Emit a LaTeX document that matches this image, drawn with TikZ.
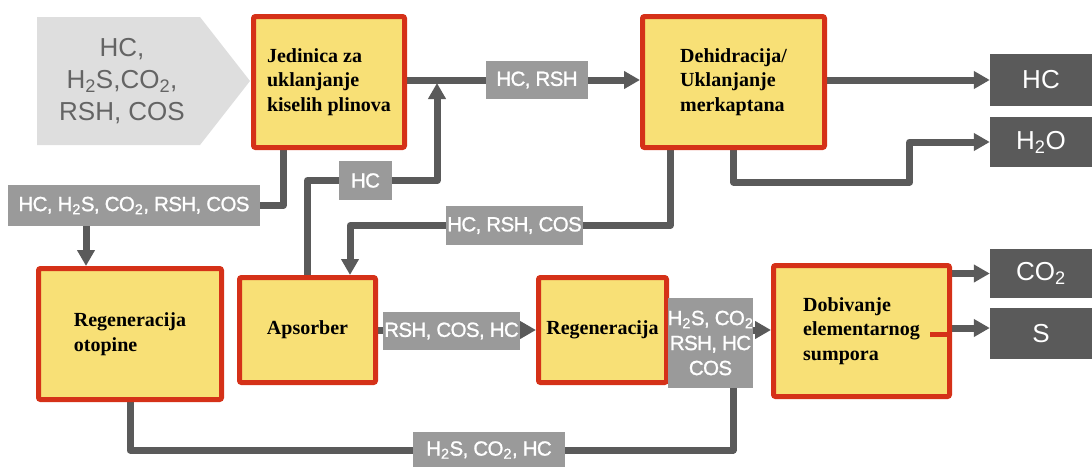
\documentclass[tikz,border=0pt]{standalone}
\usepackage{fontspec}
\setmainfont{Liberation Serif}
\setsansfont{Liberation Sans}
\newfontfamily\lblfont{Liberation Sans}[FakeBold=1.2, LetterSpace=-3]
\usetikzlibrary{arrows.meta}
\definecolor{boxred}{HTML}{D53118}
\definecolor{boxyel}{HTML}{F8E076}
\definecolor{lbl}{HTML}{9A9A9A}
\definecolor{dark}{HTML}{5A5A5A}
\definecolor{inbg}{HTML}{DEDEDE}
\definecolor{intx}{HTML}{646464}
\pgfdeclarelayer{bg}
\pgfsetlayers{bg,main}
\begin{document}
\begin{tikzpicture}[x=1pt,y=-1pt,
 proc/.style={draw=boxred, fill=boxyel, line width=5pt, rounded corners=2pt, inner sep=0pt, align=left, font=\bfseries\fontsize{20}{24.5}\selectfont, text=black},
 tag/.style={fill=lbl, inner sep=0pt, text=white, align=center, font=\lblfont\fontsize{20.5}{25}\selectfont},
 outbox/.style={fill=dark, inner sep=0pt, text=white, font=\sffamily\fontsize{26}{30}\selectfont, minimum width=102pt},
 flow/.style={draw=dark, line width=7pt, line join=round},
 arr/.style={flow, -{Triangle[length=16pt,width=17pt]}}
]
\useasboundingbox (0,0) rectangle (1092,466);
% input arrow shape
\fill[inbg] (37,17) -- (200,17) -- (250,81) -- (200,145) -- (37,145) -- cycle;
\node[font=\sffamily\fontsize{26}{32}\selectfont, text=intx, align=center] (in) at (122,81) {HC,\\H\textsubscript{2}S,CO\textsubscript{2},\\RSH, COS};
% process boxes
\node[proc, minimum width=151pt, minimum height=131pt] (b1) at (329,82) {Jedinica za\\uklanjanje\\kiselih plinova};
\node[proc, minimum width=182pt, minimum height=131pt] (b2) at (733.5,82) {Dehidracija/\\Uklanjanje\\merkaptana};
\node[proc, minimum width=183pt, minimum height=131pt] (ro) at (130,334) {Regeneracija\\otopine};
\node[proc, minimum width=136pt, minimum height=105pt] (ab) at (307.5,330) {Apsorber};
\node[proc, minimum width=128pt, minimum height=105pt] (rg) at (602.5,330) {Regeneracija};
\node[proc, minimum width=176pt, minimum height=131pt] (ds) at (861.5,331) {Dobivanje\\elementarnog\\sumpora};
\draw[boxred, line width=5pt] ([xshift=-22pt,yshift=-3.5pt]ds.east) -- ([xshift=-4pt,yshift=-3.5pt]ds.east);
% outputs
\node[outbox, minimum height=52pt] (oHC) at (1041,80) {HC};
\node[outbox, minimum height=50pt] (oH2O) at (1041,142) {H\textsubscript{2}O};
\node[outbox, minimum height=49pt] (oCO2) at (1041,273.5) {CO\textsubscript{2}};
\node[outbox, minimum height=51pt] (oS) at (1041,333.5) {S};
% stream labels
\node[tag, minimum width=102pt, minimum height=38pt] (t1) at (537,80) {HC, RSH};
\node[tag, minimum width=53pt, minimum height=39pt] (t2) at (365.5,180.5) {HC};
\node[tag, minimum width=252pt, minimum height=41pt] (t3) at (134,205.5) {HC, H\textsubscript{2}S, CO\textsubscript{2}, RSH, COS};
\node[tag, minimum width=137pt, minimum height=39pt] (t4) at (514.5,225.5) {HC, RSH, COS};
\node[tag, minimum width=137pt, minimum height=38pt] (t5) at (451.5,331) {RSH, COS, HC};
\node[tag, minimum width=85pt, minimum height=90pt] (t6) at (710.5,343) {H\textsubscript{2}S, CO\textsubscript{2}\\RSH, HC\\COS};
\node[tag, minimum width=152pt, minimum height=36pt] (t7) at (489,450) {H\textsubscript{2}S, CO\textsubscript{2}, HC};
% connectors
\begin{pgfonlayer}{bg}
\coordinate (j1) at (437,80);
\draw[arr] (b1.east |- t1) -- (b2.west |- t1);
\draw[arr] (ab.north) |- (j1 |- t2) -- ([yshift=-3pt]j1);
\draw[flow] ([xshift=-46pt]b1.south) |- (t3.east);
\draw[arr] ([xshift=-44pt]ro.north |- t3.south) -- ([xshift=-44pt]ro.north);
\draw[arr] ([xshift=-63.5pt]b2.south) |- (t4.east) -- (t4.west) -| ([xshift=42.5pt]ab.north);
\draw[arr] (b2.south) -- ++(0,32) -| ([xshift=-80pt]oH2O.west) -- (oH2O.west);
\draw[arr] (b2.east |- oHC) -- (oHC.west);
\draw[arr] (ab.east) -- (rg.west);
\draw[arr] (rg.east) -- (ds.west |- rg.east);
\draw[arr] (ds.east |- oCO2) -- (oCO2.west);
\draw[arr] ([yshift=5.5pt]ds.east |- oS.west) -- ([yshift=5.5pt]oS.west);
\draw[flow] (ro.south) |- (t7.west) -- (t7.east) -| ([xshift=22.5pt]t6.south);
\end{pgfonlayer}
\end{tikzpicture}
\end{document}
